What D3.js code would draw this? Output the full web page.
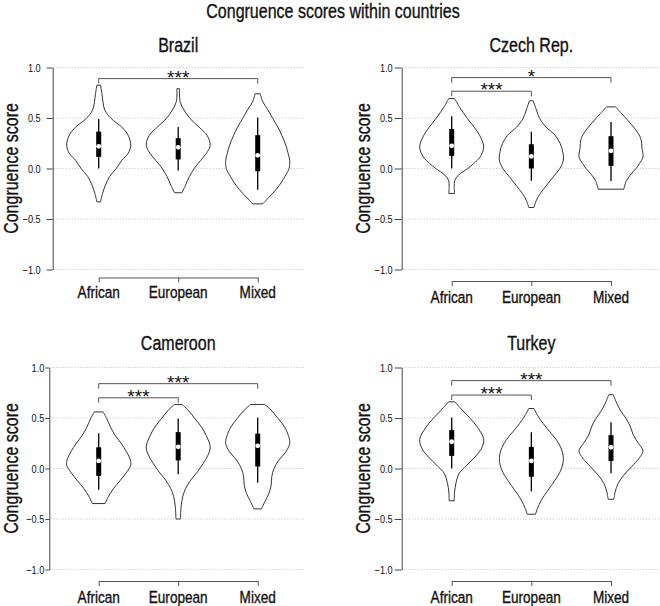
<!DOCTYPE html>
<html>
<head>
<meta charset="utf-8">
<script src="https://cdn.jsdelivr.net/npm/d3@7"></script>
<style>
  body { margin: 0; background: #fff; }
  svg text { font-family: "Liberation Sans", Arial, sans-serif; fill: #111; }
  svg text.heavy { stroke: #111; stroke-width: 0.35px; }
</style>
</head>
<body>
<div class="container"></div>
<script>
const w = 660
const h = 606
const squeeze = 0.8   // no condensed face installed, so narrow the regular one

const categories = ["African", "European", "Mixed"]
const countries = ["Brazil", "Czech Rep.", "Cameroon", "Turkey"]
const yTicks = [-1.0, -0.5, 0.0, 0.5, 1.0]

// violin outlines: [score, relative half width]
const brazilAfrican = [[-0.33,0.06],[-0.245,0.12],[-0.165,0.21],[-0.08,0.34],[0.0,0.55],[0.08,0.72],[0.15,0.92],[0.23,1.0],[0.33,0.92],[0.41,0.72],[0.495,0.39],[0.58,0.19],[0.74,0.1],[0.825,0.06]]
const brazilEuropean = [[-0.24,0.115],[-0.165,0.23],[-0.08,0.35],[0.0,0.5],[0.08,0.7],[0.15,0.88],[0.23,1.0],[0.33,0.9],[0.41,0.65],[0.495,0.37],[0.58,0.18],[0.66,0.06],[0.79,0.04]]
const brazilMixed = [[-0.35,0.16],[-0.315,0.26],[-0.245,0.47],[-0.165,0.68],[-0.08,0.85],[0.0,0.98],[0.08,1.0],[0.15,0.95],[0.23,0.88],[0.33,0.75],[0.41,0.63],[0.495,0.47],[0.58,0.32],[0.66,0.16],[0.74,0.08]]

const czechAfrican = [[-0.247,0.09],[-0.18,0.08],[-0.116,0.1],[-0.066,0.21],[0.0,0.5],[0.05,0.69],[0.115,0.89],[0.215,1.0],[0.33,0.87],[0.41,0.7],[0.495,0.49],[0.61,0.24],[0.693,0.09]]
const czechEuropean = [[-0.386,0.08],[-0.313,0.16],[-0.247,0.28],[-0.165,0.48],[-0.08,0.69],[0.0,0.89],[0.083,1.0],[0.165,0.98],[0.248,0.9],[0.33,0.74],[0.41,0.46],[0.495,0.26],[0.578,0.16],[0.67,0.06]]
const czechMixed = [[-0.205,0.4],[-0.13,0.47],[-0.066,0.6],[0.0,0.78],[0.05,0.89],[0.115,1.0],[0.198,0.97],[0.297,0.93],[0.38,0.78],[0.46,0.57],[0.545,0.33],[0.61,0.14]]

const cameroonAfrican = [[-0.347,0.2],[-0.28,0.3],[-0.2,0.46],[-0.116,0.68],[-0.033,0.88],[0.033,1.0],[0.083,0.99],[0.165,0.87],[0.25,0.7],[0.33,0.51],[0.41,0.37],[0.495,0.25],[0.56,0.14]]
const cameroonEuropean = [[-0.5,0.07],[-0.38,0.09],[-0.28,0.14],[-0.2,0.23],[-0.116,0.39],[-0.033,0.6],[0.05,0.78],[0.132,0.93],[0.215,1.0],[0.33,0.87],[0.41,0.73],[0.495,0.52],[0.578,0.31],[0.634,0.12]]
const cameroonMixed = [[-0.4,0.12],[-0.33,0.22],[-0.247,0.35],[-0.165,0.42],[-0.08,0.44],[0.0,0.51],[0.083,0.66],[0.165,0.88],[0.248,1.0],[0.314,0.97],[0.41,0.84],[0.495,0.64],[0.578,0.42],[0.634,0.22]]

const turkeyAfrican = [[-0.32,0.08],[-0.232,0.09],[-0.15,0.13],[-0.05,0.23],[0.033,0.47],[0.115,0.73],[0.198,0.93],[0.29,1.0],[0.41,0.8],[0.495,0.58],[0.578,0.33],[0.66,0.1]]
const turkeyEuropean = [[-0.453,0.13],[-0.396,0.19],[-0.314,0.31],[-0.215,0.52],[-0.116,0.74],[-0.016,0.92],[0.083,1.0],[0.182,0.95],[0.28,0.79],[0.363,0.58],[0.445,0.37],[0.528,0.19],[0.594,0.08]]
const turkeyMixed = [[-0.305,0.09],[-0.232,0.13],[-0.15,0.22],[-0.066,0.4],[0.017,0.64],[0.1,0.875],[0.175,1.0],[0.248,0.86],[0.33,0.7],[0.41,0.61],[0.495,0.47],[0.578,0.29],[0.66,0.16],[0.73,0.07]]

// box stats: [lower whisker, q1, median, q3, upper whisker]
const brazilBoxes = [[0.0,0.115,0.22,0.365,0.49],[-0.02,0.09,0.21,0.30,0.41],[-0.21,-0.027,0.13,0.33,0.505]]
const czechBoxes = [[0.0,0.125,0.225,0.39,0.518],[-0.122,0.0,0.12,0.24,0.365],[-0.123,0.026,0.175,0.32,0.46]]
const cameroonBoxes = [[-0.21,-0.073,0.075,0.21,0.35],[-0.056,0.08,0.215,0.36,0.495],[-0.14,0.02,0.225,0.345,0.505]]
const turkeyBoxes = [[0.0,0.125,0.265,0.38,0.505],[-0.225,-0.082,0.075,0.214,0.36],[-0.047,0.075,0.21,0.33,0.458]]

// significance brackets: [from, to, score level, label]
const brazilSig = [["African","Mixed",0.89,"***"]]
const czechSig = [["African","Mixed",0.90,"*"],["African","European",0.765,"***"]]
const cameroonSig = [["African","Mixed",0.84,"***"],["African","European",0.70,"***"]]
const turkeySig = [["African","Mixed",0.87,"***"],["African","European",0.727,"***"]]

const violins = [
  [brazilAfrican, brazilEuropean, brazilMixed],
  [czechAfrican, czechEuropean, czechMixed],
  [cameroonAfrican, cameroonEuropean, cameroonMixed],
  [turkeyAfrican, turkeyEuropean, turkeyMixed]
]
const boxes = [brazilBoxes, czechBoxes, cameroonBoxes, turkeyBoxes]
const sigs = [brazilSig, czechSig, cameroonSig, turkeySig]

// panel layout
const panels = [
  {axisX: 52.7, gridEnd: 306, cats: [98.7, 257.7], top: 67.5, bottom: 269.5, bracketY: 277.5, labelY: 298, titleY: 51.5, yLabX: 18, tick: 6, pad: 6},
  {axisX: 401.7, gridEnd: 660, cats: [451.7, 611], top: 67.5, bottom: 269.5, bracketY: 281, labelY: 302.5, titleY: 51.5, yLabX: 369.5, tick: 7, pad: 2},
  {axisX: 49.3, gridEnd: 305, cats: [98.7, 257.7], top: 367.5, bottom: 569.5, bracketY: 581, labelY: 602.5, titleY: 349.5, yLabX: 18, tick: 4, pad: 1},
  {axisX: 401.7, gridEnd: 660, cats: [451.7, 611], top: 367.5, bottom: 569.5, bracketY: 581, labelY: 602.5, titleY: 349.5, yLabX: 369.5, tick: 7, pad: 2}
]

const svg = d3.select(".container")
              .append("svg")
              .attr("width", w)
              .attr("height", h)

// narrow text placed at (x, y)
function narrowText(sel, x, y, size, str, rot) {
  return sel.append("text")
            .attr("class", "heavy")
            .attr("transform", `translate(${x}, ${y})${rot ? ` rotate(${rot})` : ""} scale(${squeeze}, 1)`)
            .attr("text-anchor", "middle")
            .style("font-size", size + "px")
            .text(str)
}

narrowText(svg, 333, 18, 20, "Congruence scores within countries")

const widthScale = d3.scaleLinear().domain([0, 1]).range([0, 32])

panels.forEach((p, i) => {
  const g = svg.append("g")

  const yScale = d3.scaleLinear().domain([-1, 1]).range([p.bottom, p.top])
  const xScale = d3.scalePoint().domain(categories).range(p.cats)

  // grid
  g.selectAll(".grid")
   .data(yTicks)
   .enter()
   .append("line")
     .attr("x1", p.axisX + 1)
     .attr("x2", p.gridEnd)
     .attr("y1", d => yScale(d))
     .attr("y2", d => yScale(d))
     .attr("stroke", "#bbb")
     .attr("stroke-width", 0.8)
     .attr("stroke-dasharray", "1.2,1.8")

  const yAxis = d3.axisLeft(yScale)
                  .tickValues(yTicks)
                  .tickFormat(d3.format(".1f"))
                  .tickSize(p.tick)
                  .tickPadding(p.pad)
                  .tickSizeOuter(0)

  const ya = g.append("g")
              .attr("transform", `translate(${p.axisX}, 0)`)
              .call(yAxis)
  ya.select(".domain").attr("stroke", "#444")
  ya.selectAll(".tick line").attr("stroke", "#444")
  ya.selectAll(".tick text")
    .attr("x", -(p.tick + p.pad) / squeeze)
    .attr("transform", `scale(${squeeze}, 1)`)
    .style("font-size", "11.5px")
    .attr("fill", "#222")

  // category bracket axis
  const xAxis = d3.axisTop(xScale).tickSize(-5).tickSizeOuter(0).tickFormat("")
  const xa = g.append("g")
              .attr("transform", `translate(0, ${p.bracketY})`)
              .call(xAxis)
  xa.select(".domain").attr("stroke", "#555")
  xa.selectAll(".tick line").attr("stroke", "#555")

  categories.forEach(c => narrowText(g, xScale(c), p.labelY, 17, c))

  narrowText(g, d3.mean(p.cats), p.titleY, 20, countries[i])
  narrowText(g, p.yLabX, (p.top + p.bottom) / 2, 20, "Congruence score", -90)

  // violins
  violins[i].forEach((shape, j) => {
    const cx = xScale(categories[j])
    const area = d3.area()
                   .curve(d3.curveCatmullRom)
                   .y(d => yScale(d[0]))
                   .x0(d => cx - widthScale(d[1]))
                   .x1(d => cx + widthScale(d[1]))
    g.append("path")
     .attr("d", area(shape))
     .attr("fill", "#fff")
     .attr("stroke", "#333")
     .attr("stroke-width", 1)

    const b = boxes[i][j]
    g.append("line")
     .attr("x1", cx).attr("x2", cx)
     .attr("y1", yScale(b[0])).attr("y2", yScale(b[4]))
     .attr("stroke", "#000")
     .attr("stroke-width", 1.3)
    g.append("rect")
     .attr("x", cx - 2.5)
     .attr("width", 5)
     .attr("y", yScale(b[3]))
     .attr("height", yScale(b[1]) - yScale(b[3]))
     .attr("fill", "#000")
    g.append("circle")
     .attr("cx", cx)
     .attr("cy", yScale(b[2]))
     .attr("r", 2.4)
     .attr("fill", "#fff")
  })

  // significance brackets
  sigs[i].forEach(s => {
    const x1 = xScale(s[0])
    const x2 = xScale(s[1])
    const y = yScale(s[2])
    g.append("path")
     .attr("d", `M${x1},${y + 5}V${y}H${x2}V${y + 5}`)
     .attr("fill", "none")
     .attr("stroke", "#555")
     .attr("stroke-width", 1)
    g.append("text")
     .attr("x", (x1 + x2) / 2)
     .attr("y", y + 5)
     .attr("text-anchor", "middle")
     .style("font-size", "19px")
     .text(s[3])
  })
})
</script>
</body>
</html>
